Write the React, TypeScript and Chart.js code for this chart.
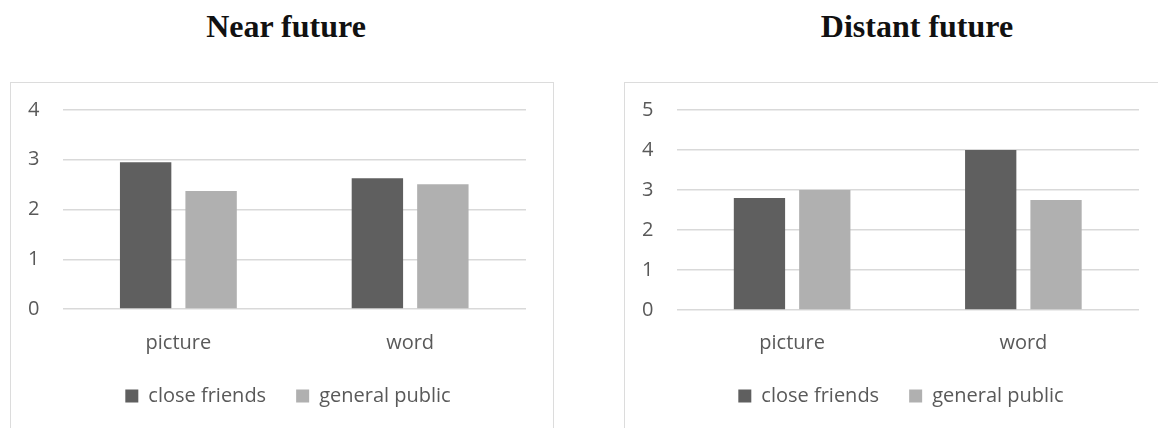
import React, { useEffect, useRef } from "react";
import { Chart, registerables } from "chart.js";

Chart.register(...registerables);

const categories = ["picture", "word"];
const seriesNames = ["close friends", "general public"];
const nearCloseFriends = [2.95, 2.63];
const nearGeneralPublic = [2.37, 2.51];
const distantCloseFriends = [2.8, 4.0];
const distantGeneralPublic = [3.0, 2.75];
const nearMax = 4;
const distantMax = 5;
const tickStep = 1;
const titles = ["Near future", "Distant future"];

const DARK = "#5f5f5f";
const LIGHT = "#b0b0b0";
const TEXT = "#595959";
const GRID = "#d9d9d9";
const FONT = "'Open Sans', 'Noto Sans', sans-serif";

type Geo = {
  W: number;
  H: number;
  pl: number;
  pr: number;
  pt: number;
  pb: number;
  yW: number;
  xH: number;
  xPad: number;
  legendShift: number;
};

function makeConfig(a: number[], b: number[], max: number, g: Geo): any {
  const shiftLegend = {
    id: "shiftLegend",
    beforeDraw(chart: any) {
      const l = chart.legend;
      if (l && !l._shifted) {
        l.left += g.legendShift;
        l.right += g.legendShift;
        l._shifted = true;
      }
    },
  };
  return {
    type: "bar",
    data: {
      labels: categories,
      datasets: [
        {
          label: seriesNames[0],
          data: a,
          backgroundColor: DARK,
          borderWidth: 0,
          categoryPercentage: 0.565,
          barPercentage: 0.785,
        },
        {
          label: seriesNames[1],
          data: b,
          backgroundColor: LIGHT,
          borderWidth: 0,
          categoryPercentage: 0.565,
          barPercentage: 0.785,
        },
      ],
    },
    plugins: [shiftLegend],
    options: {
      responsive: false,
      animation: false,
      devicePixelRatio: 1,
      layout: { padding: { left: g.pl, right: g.pr, top: g.pt, bottom: g.pb } },
      plugins: {
        title: { display: false },
        tooltip: { enabled: false },
        legend: {
          display: true,
          position: "bottom",
          labels: {
            color: TEXT,
            font: { family: FONT, size: 20 },
            boxWidth: 13,
            boxHeight: 13,
            padding: 30,
          },
        },
      },
      scales: {
        x: {
          grid: { display: false, drawTicks: false },
          border: { display: false },
          ticks: { color: TEXT, font: { family: FONT, size: 20 }, padding: g.xPad },
          afterFit: (s: any) => {
            s.height = g.xH;
          },
        },
        y: {
          min: 0,
          max: max,
          grid: {
            color: GRID,
            lineWidth: 1.5,
            drawTicks: true,
            tickLength: 23,
            tickColor: "rgba(0,0,0,0)",
          },
          border: { display: false },
          ticks: {
            color: TEXT,
            font: { family: FONT, size: 20 },
            padding: 0,
            stepSize: tickStep,
          },
          afterFit: (s: any) => {
            s.width = g.yW;
          },
        },
      },
    },
  };
}

function ChartCanvas({ a, b, max, g }: { a: number[]; b: number[]; max: number; g: Geo }) {
  const ref = useRef<HTMLCanvasElement>(null);
  useEffect(() => {
    if (!ref.current) return;
    const chart = new Chart(ref.current, makeConfig(a, b, max, g));
    return () => chart.destroy();
  }, []);
  return <canvas ref={ref} width={g.W} height={g.H} style={{ width: g.W, height: g.H, display: "block" }} />;
}

export default function App() {
  const leftGeo: Geo = { W: 542, H: 345, pl: 0, pr: 27, pt: 27, pb: 12, yW: 51.5, xH: 47, xPad: 22, legendShift: 19.5 };
  const rightGeo: Geo = { W: 533, H: 345, pl: 0, pr: 19, pt: 27, pb: 12, yW: 51.5, xH: 46, xPad: 21, legendShift: 19 };
  const titleStyle: React.CSSProperties = {
    position: "absolute",
    top: 10,
    width: 400,
    textAlign: "center",
    fontFamily: "'Liberation Serif', 'Times New Roman', serif",
    fontWeight: "bold",
    fontSize: 32,
    lineHeight: "32px",
    color: "#111",
  };
  return (
    <div
      style={{
        position: "absolute",
        left: 0,
        top: 0,
        width: 1158,
        height: 428,
        overflow: "hidden",
        background: "#fff",
      }}
    >
      <div style={{ ...titleStyle, left: 286 - 200 }}>{titles[0]}</div>
      <div style={{ ...titleStyle, left: 917 - 200 }}>{titles[1]}</div>
      <div
        style={{
          position: "absolute",
          left: 10,
          top: 82,
          width: 542,
          height: 400,
          border: "1px solid #dcdcdc",
        }}
      />
      <div
        style={{
          position: "absolute",
          left: 624,
          top: 82,
          width: 600,
          height: 400,
          border: "1px solid #dcdcdc",
        }}
      />
      <div style={{ position: "absolute", left: 11, top: 83 }}>
        <ChartCanvas a={nearCloseFriends} b={nearGeneralPublic} max={nearMax} g={leftGeo} />
      </div>
      <div style={{ position: "absolute", left: 625, top: 83 }}>
        <ChartCanvas a={distantCloseFriends} b={distantGeneralPublic} max={distantMax} g={rightGeo} />
      </div>
    </div>
  );
}
